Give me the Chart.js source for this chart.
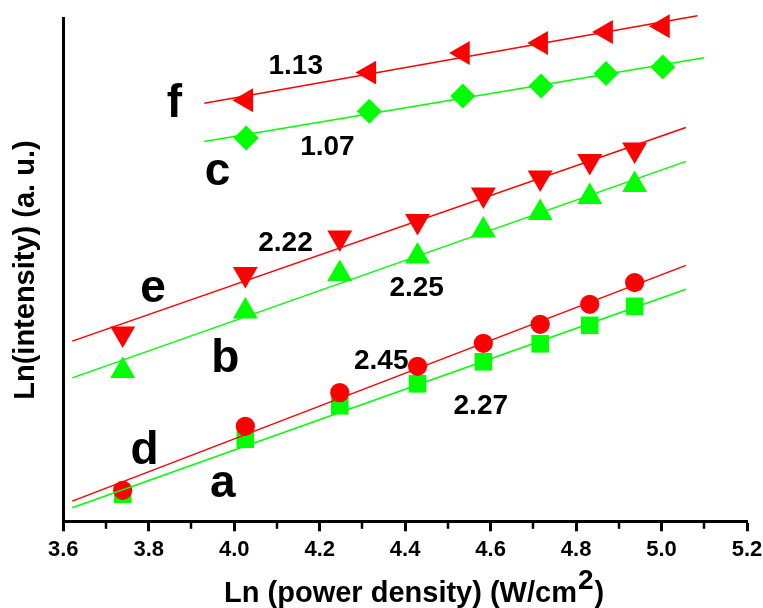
<!DOCTYPE html>
<html>
<head>
<meta charset="utf-8">
<script src="https://cdn.jsdelivr.net/npm/chart.js@4.4.1/dist/chart.umd.min.js"></script>
<style>
  html, body { margin: 0; padding: 0; background: #ffffff; }
  canvas { display: block; }
</style>
</head>
<body>
<canvas id="chart" width="763" height="608"></canvas>
<script>
// Ln(power density) of the excitation steps
const xMain  = [3.739, 4.026, 4.247, 4.429, 4.583, 4.716, 4.832, 4.937];
const xUpper = [4.028, 4.316, 4.535, 4.718, 4.870, 5.003];

// Ln(intensity) per curve
const curveA = [0.403, 1.224, 1.724, 2.052, 2.381, 2.649, 2.925, 3.209];
const curveB = [2.245, 3.133, 3.693, 3.954, 4.342, 4.603, 4.842, 5.021];
const curveC = [5.721, 6.119, 6.348, 6.497, 6.682, 6.781];
const curveD = [0.463, 1.418, 1.921, 2.313, 2.657, 2.940, 3.239, 3.563];
const curveE = [2.800, 3.688, 4.233, 4.479, 4.875, 5.128, 5.375, 5.546];
const curveF = [6.284, 6.697, 6.990, 7.139, 7.303, 7.388];

// Linear fits: slope, a point on the line, and the x span drawn
const curveNames  = ['a', 'b', 'c', 'd', 'e', 'f'];
const fitSlope    = [2.27, 2.25, 1.07, 2.45, 2.22, 1.13];
const fitAnchorX  = [4.339, 4.338, 4.515, 4.339, 4.338, 4.507];
const fitAnchorY  = [1.833, 3.754, 6.293, 2.060, 4.281, 6.893];
const fitFrom     = [3.621, 3.621, 3.930, 3.621, 3.621, 3.930];
const fitTo       = [5.057, 5.057, 5.100, 5.057, 5.057, 5.084];

// Axis ticks
const xTicks       = [3.6, 3.8, 4.0, 4.2, 4.4, 4.6, 4.8, 5.0, 5.2];
const xTickLabels  = ['3.6', '3.8', '4.0', '4.2', '4.4', '4.6', '4.8', '5.0', '5.2'];
const xMinorTicks  = [3.7, 3.9, 4.1, 4.3, 4.5, 4.7, 4.9, 5.1];

// Where the curve letters and slope values sit (data units, text baseline)
const letterPlacement = [[3.973, 0.363], [3.979, 2.228], [3.961, 5.015],
                         [3.790, 0.861], [3.810, 3.273], [3.860, 6.034]];
const slopePlacement  = [[4.577, 1.607], [4.427, 3.363], [4.218, 5.463],
                         [4.344, 2.279], [4.120, 4.030], [4.144, 6.672]];

const RED = '#ff0000';
const GREEN = '#00ff00';
const FONT = '"Liberation Sans", Arial, Helvetica, sans-serif';

function pairs(xs, ys) { return xs.map((x, i) => ({ x: x, y: ys[i] })); }

function fitLine(i) {
  const f = x => fitAnchorY[i] + fitSlope[i] * (x - fitAnchorX[i]);
  return [{ x: fitFrom[i], y: f(fitFrom[i]) }, { x: fitTo[i], y: f(fitTo[i]) }];
}

const fitColors = [GREEN, GREEN, GREEN, RED, RED, RED];
const lineSets = curveNames.map((n, i) => ({
  label: 'fit ' + n,
  data: fitLine(i),
  showLine: true,
  borderColor: fitColors[i],
  borderWidth: 1.5,
  pointRadius: 0,
  fill: false,
  clip: false,
  order: 0
}));

function markers(label, data, color, style, radius, rotation, order) {
  return {
    label: label,
    data: data,
    showLine: false,
    pointStyle: style,
    pointRadius: radius,
    pointRotation: rotation,
    pointBackgroundColor: color,
    pointBorderColor: color,
    pointBorderWidth: 0,
    clip: false,
    order: order
  };
}

const markerSets = [
  markers('d', pairs(xMain, curveD), RED, 'circle', 9.6, 0, 1),
  markers('a', pairs(xMain, curveA), GREEN, 'rect', 12.4, 0, 2),
  markers('e', pairs(xMain, curveE), RED, 'triangle', 14.4, 180, 1),
  markers('b', pairs(xMain, curveB), GREEN, 'triangle', 14.4, 0, 1),
  markers('c', pairs(xUpper, curveC), GREEN, 'rectRot', 12.5, 0, 1),
  markers('f', pairs(xUpper, curveF), RED, 'triangle', 13.8, -90, 1)
];

// Minor ticks, curve letters, slope values and the x axis title
const decorations = {
  id: 'decorations',
  afterDraw(chart) {
    const ctx = chart.ctx;
    const xs = chart.scales.x, ys = chart.scales.y;
    const area = chart.chartArea;
    ctx.save();

    // minor ticks under the x axis
    ctx.strokeStyle = '#000';
    ctx.lineWidth = 2.5;
    xMinorTicks.forEach(v => {
      const px = Math.round(xs.getPixelForValue(v));
      ctx.beginPath();
      ctx.moveTo(px, area.bottom);
      ctx.lineTo(px, area.bottom + 7.5);
      ctx.stroke();
    });

    ctx.fillStyle = '#000';
    ctx.textAlign = 'center';
    ctx.textBaseline = 'alphabetic';

    ctx.font = 'bold 46px ' + FONT;
    curveNames.forEach((n, i) => {
      const p = letterPlacement[i];
      ctx.fillText(n, xs.getPixelForValue(p[0]), ys.getPixelForValue(p[1]));
    });

    ctx.font = 'bold 28px ' + FONT;
    fitSlope.forEach((s, i) => {
      const p = slopePlacement[i];
      ctx.fillText(s.toFixed(2), xs.getPixelForValue(p[0]), ys.getPixelForValue(p[1]));
    });

    // x axis title with a raised exponent
    const main = 'Ln (power density) (W/cm';
    const sup = '2';
    const tail = ')';
    ctx.font = 'bold 29px ' + FONT;
    const w1 = ctx.measureText(main).width;
    const w3 = ctx.measureText(tail).width;
    ctx.font = 'bold 28px ' + FONT;
    const w2 = ctx.measureText(sup).width;
    const total = w1 + w2 + w3 + 2;
    const cx = (area.left + area.right) / 2 + 9;
    const base = 601.7;
    const x0 = cx - total / 2;
    ctx.textAlign = 'left';
    ctx.font = 'bold 29px ' + FONT;
    ctx.fillText(main, x0, base);
    ctx.font = 'bold 28px ' + FONT;
    ctx.fillText(sup, x0 + w1 + 1, base - 13);
    ctx.font = 'bold 29px ' + FONT;
    ctx.fillText(tail, x0 + w1 + w2 + 2, base);

    ctx.restore();
  }
};

new Chart(document.getElementById('chart'), {
  type: 'scatter',
  data: { datasets: lineSets.concat(markerSets) },
  options: {
    responsive: false,
    animation: false,
    devicePixelRatio: 1,
    layout: { padding: { top: 18.8, right: 16, bottom: 0, left: 0 } },
    plugins: {
      legend: { display: false },
      tooltip: { enabled: false }
    },
    scales: {
      x: {
        type: 'linear',
        min: 3.6,
        max: 5.2,
        afterBuildTicks: s => { s.ticks = xTicks.map(v => ({ value: v })); },
        afterFit: s => { s.height = 86.7; s.paddingRight = 0; s.paddingLeft = 0; },
        ticks: {
          autoSkip: false,
          maxRotation: 0,
          padding: 5.3,
          color: '#000',
          font: { family: FONT, size: 22, weight: 'bold' },
          callback: (v, i) => xTickLabels[i]
        },
        grid: {
          drawOnChartArea: false,
          drawTicks: true,
          tickLength: 10,
          tickWidth: 3,
          tickColor: '#000'
        },
        border: { display: true, color: '#000', width: 3 }
      },
      y: {
        type: 'linear',
        min: 0,
        max: 7.5,
        afterFit: s => { s.width = 63.3; },
        ticks: { display: false },
        grid: { display: false, drawTicks: false },
        border: { display: true, color: '#000', width: 3 },
        title: {
          display: true,
          text: 'Ln(intensity) (a. u.)',
          color: '#000',
          font: { family: FONT, size: 29, weight: 'bold' },
          padding: { top: 9, bottom: 0 }
        }
      }
    }
  },
  plugins: [decorations]
});
</script>
</body>
</html>
